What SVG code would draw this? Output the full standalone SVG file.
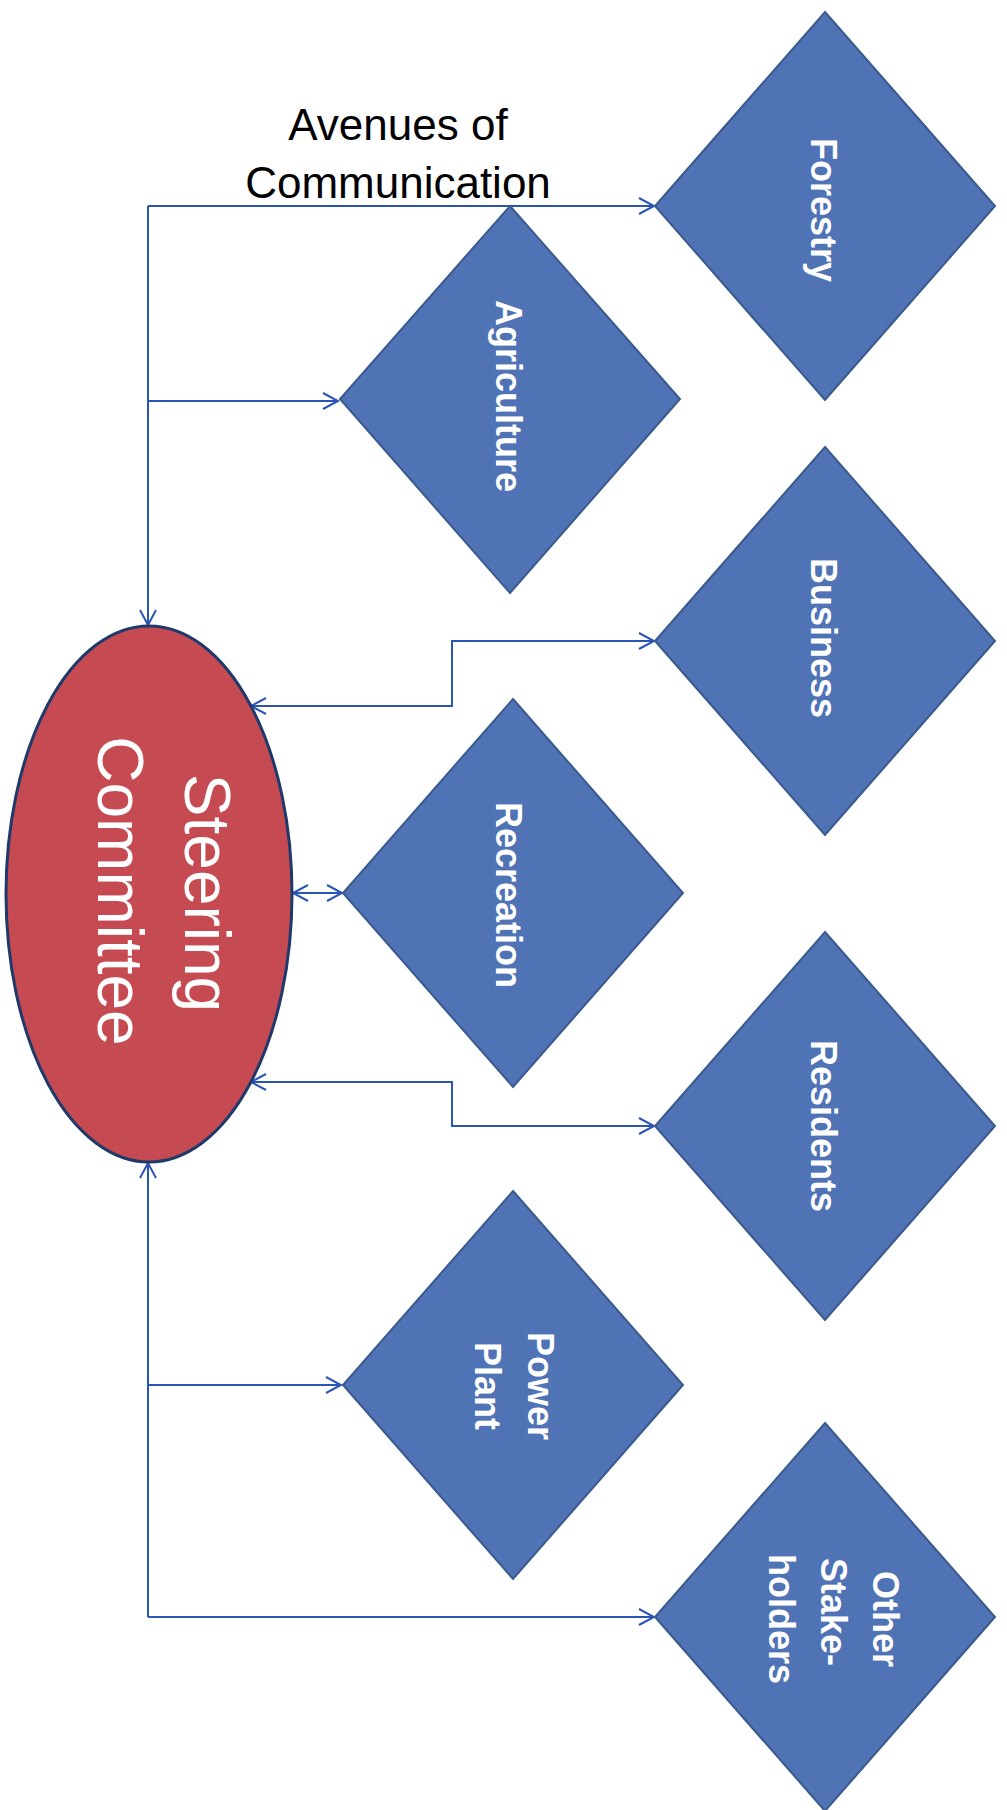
<svg xmlns="http://www.w3.org/2000/svg" width="1007" height="1810" viewBox="0 0 1007 1810">
  <style>
    .dia { fill: #4F73B5; stroke: #3A5A8E; stroke-width: 2; }
    .dtext { font-family: "Liberation Sans", Arial, sans-serif; font-weight: bold; font-size: 36px; fill: #FFFFFF; text-anchor: middle; }
    .conn { fill: none; stroke: #2B55B5; stroke-width: 2; }
    .title { font-family: "Liberation Sans", Arial, sans-serif; font-size: 44px; fill: #000000; text-anchor: middle; }
    .sc { font-family: "Liberation Sans", Arial, sans-serif; font-size: 64px; fill: #FFFFFF; text-anchor: middle; }
  </style>
  <defs>
    <marker id="arr" markerUnits="userSpaceOnUse" markerWidth="20" markerHeight="20" refX="16" refY="9" orient="auto-start-reverse">
      <path d="M1,1 L16,9 L1,17" fill="none" stroke="#2B55B5" stroke-width="2"/>
    </marker>
  </defs>
  <rect x="0" y="0" width="1007" height="1810" fill="#FFFFFF"/>

  <g id="title">
    <text class="title" x="398" y="140">Avenues of</text>
    <text class="title" x="398" y="198">Communication</text>
  </g>

  <g id="connectors">
    <!-- top bus: to Forestry, Agriculture, and down to Steering Committee -->
    <polyline class="conn" points="148,206 654,206" marker-end="url(#arr)"/>
    <polyline class="conn" points="148,401 338,401" marker-end="url(#arr)"/>
    <polyline class="conn" points="148,206 148,625" marker-end="url(#arr)"/>
    <!-- Business -->
    <polyline class="conn" points="251,706 452,706 452,641 654,641" marker-start="url(#arr)" marker-end="url(#arr)"/>
    <!-- Recreation -->
    <polyline class="conn" points="293,893 342,893" marker-start="url(#arr)" marker-end="url(#arr)"/>
    <!-- Residents -->
    <polyline class="conn" points="251,1082 452,1082 452,1126 654,1126" marker-start="url(#arr)" marker-end="url(#arr)"/>
    <!-- bottom bus -->
    <polyline class="conn" points="148,1163 148,1617" marker-start="url(#arr)"/>
    <polyline class="conn" points="148,1385 341,1385" marker-end="url(#arr)"/>
    <polyline class="conn" points="148,1617 654,1617" marker-end="url(#arr)"/>
  </g>

  <g id="steering-committee">
    <ellipse cx="149" cy="894" rx="143" ry="268" fill="#C64A51" stroke="#1F3A6A" stroke-width="3"/>
    <text class="sc" transform="translate(185,893) rotate(90)">Steering</text>
    <text class="sc" transform="translate(98,891) rotate(90)">Committee</text>
  </g>

  <g id="forestry">
    <polygon class="dia" points="825,12 995,206 825,400 655,206"/>
    <text class="dtext" transform="translate(811,210) rotate(90)">Forestry</text>
  </g>

  <g id="agriculture">
    <polygon class="dia" points="510,206 680,399 510,593 340,399"/>
    <text class="dtext" transform="translate(496,396) rotate(90)">Agriculture</text>
  </g>

  <g id="business">
    <polygon class="dia" points="825,447 995,641 825,835 655,641"/>
    <text class="dtext" transform="translate(811,638) rotate(90)">Business</text>
  </g>

  <g id="recreation">
    <polygon class="dia" points="513,699 683,893 513,1087 343,893"/>
    <text class="dtext" transform="translate(496,895) rotate(90)">Recreation</text>
  </g>

  <g id="residents">
    <polygon class="dia" points="825,932 995,1126 825,1320 655,1126"/>
    <text class="dtext" transform="translate(811,1126) rotate(90)">Residents</text>
  </g>

  <g id="power-plant">
    <polygon class="dia" points="513,1191 683,1385 513,1579 343,1385"/>
    <text class="dtext" transform="translate(528,1386) rotate(90)">Power</text>
    <text class="dtext" transform="translate(475,1386) rotate(90)">Plant</text>
  </g>

  <g id="other-stakeholders">
    <polygon class="dia" points="825,1423 995,1617 825,1811 655,1617"/>
    <text class="dtext" transform="translate(873,1619) rotate(90)">Other</text>
    <text class="dtext" transform="translate(821,1612) rotate(90)">Stake-</text>
    <text class="dtext" transform="translate(769,1619) rotate(90)">holders</text>
  </g>
</svg>
